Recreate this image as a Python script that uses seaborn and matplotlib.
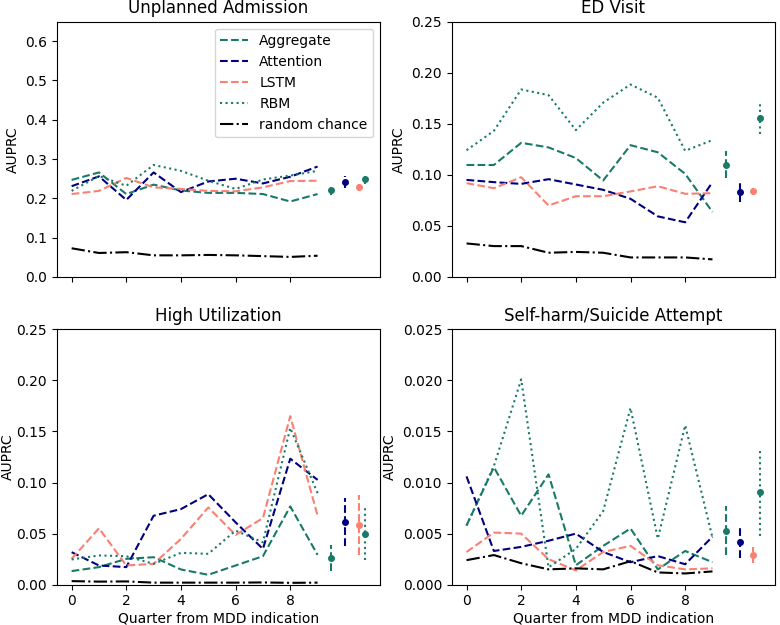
import matplotlib
matplotlib.use("Agg")
import matplotlib.pyplot as plt
import seaborn as sns
import numpy as np
import pandas as pd

quarters = [0, 1, 2, 3, 4, 5, 6, 7, 8, 9]
models = ["Aggregate", "Attention", "LSTM", "RBM"]
summary_x = [9.5, 10.0, 10.5, 10.75]
titles = ["Unplanned Admission", "ED Visit", "High Utilization", "Self-harm/Suicide Attempt"]
xticks = [0, 2, 4, 6, 8]

# Unplanned Admission
ua_aggregate = [0.247, 0.266, 0.211, 0.235, 0.220, 0.214, 0.214, 0.211, 0.192, 0.211]
ua_attention = [0.231, 0.256, 0.196, 0.266, 0.216, 0.243, 0.250, 0.238, 0.255, 0.281]
ua_lstm = [0.211, 0.219, 0.252, 0.228, 0.224, 0.219, 0.218, 0.228, 0.244, 0.245]
ua_rbm = [0.219, 0.257, 0.232, 0.285, 0.270, 0.245, 0.224, 0.248, 0.258, 0.270]
ua_random = [0.073, 0.061, 0.063, 0.055, 0.055, 0.056, 0.055, 0.053, 0.051, 0.054]
ua_mean = [0.221, 0.242, 0.228, 0.249]
ua_err = [0.012, 0.015, 0.008, 0.012]

# ED Visit
ed_aggregate = [0.1096, 0.1096, 0.1313, 0.1268, 0.1164, 0.0944, 0.1290, 0.1220, 0.1009, 0.0636]
ed_attention = [0.0950, 0.0928, 0.0911, 0.0957, 0.0905, 0.0853, 0.0765, 0.0593, 0.0535, 0.0928]
ed_lstm = [0.0918, 0.0869, 0.0976, 0.0700, 0.0790, 0.0790, 0.0837, 0.0888, 0.0814, 0.0820]
ed_rbm = [0.1240, 0.1430, 0.1835, 0.1780, 0.1437, 0.1706, 0.1884, 0.1754, 0.1235, 0.1340]
ed_random = [0.0328, 0.0302, 0.0302, 0.0237, 0.0245, 0.0237, 0.0191, 0.0191, 0.0191, 0.0172]
ed_mean = [0.110, 0.0833, 0.0837, 0.156]
ed_err = [0.0135, 0.010, 0.003, 0.0163]

# High Utilization
hu_aggregate = [0.0133, 0.0172, 0.0253, 0.0269, 0.0149, 0.0097, 0.0188, 0.0279, 0.0766, 0.0292]
hu_attention = [0.0318, 0.0188, 0.0172, 0.0675, 0.0740, 0.0886, 0.0610, 0.0350, 0.1233, 0.1026]
hu_lstm = [0.0253, 0.0552, 0.0188, 0.0204, 0.0448, 0.0756, 0.0487, 0.0652, 0.1650, 0.0675]
hu_rbm = [0.0247, 0.0286, 0.0279, 0.0204, 0.0312, 0.0302, 0.0529, 0.0415, 0.1535, 0.0896]
hu_random = [0.0035, 0.0030, 0.0032, 0.0020, 0.0020, 0.0020, 0.0020, 0.0022, 0.0018, 0.0020]
hu_mean = [0.026, 0.0617, 0.0584, 0.0497]
hu_err = [0.013, 0.0235, 0.029, 0.026]

# Self-harm/Suicide Attempt
sh_aggregate = [0.0058, 0.0115, 0.00675, 0.0108, 0.0019, 0.0038, 0.0055, 0.0015, 0.0033, 0.0022]
sh_attention = [0.0106, 0.0033, 0.0037, 0.0043, 0.0050, 0.0032, 0.0022, 0.0028, 0.0020, 0.0047]
sh_lstm = [0.0032, 0.0051, 0.0050, 0.0025, 0.0014, 0.0032, 0.0038, 0.0019, 0.0015, 0.0016]
sh_rbm = [0.00578, 0.0116, 0.0201, 0.0017, 0.0035, 0.0072, 0.0173, 0.0045, 0.0156, 0.0046]
sh_random = [0.0024, 0.0029, 0.0021, 0.0015, 0.0016, 0.0015, 0.0023, 0.0012, 0.0011, 0.0013]
sh_mean = [0.0053, 0.0042, 0.0029, 0.0091]
sh_err = [0.0024, 0.0016, 0.0008, 0.0043]

ylims = [0.65, 0.25, 0.25, 0.025]

colors = {"Aggregate": "#1a7a68", "Attention": "#000080", "LSTM": "#fa8072", "RBM": "#1a7a68"}
styles = {"Aggregate": "--", "Attention": "--", "LSTM": "--", "RBM": ":"}

panels = [
    (ua_aggregate, ua_attention, ua_lstm, ua_rbm, ua_random, ua_mean, ua_err),
    (ed_aggregate, ed_attention, ed_lstm, ed_rbm, ed_random, ed_mean, ed_err),
    (hu_aggregate, hu_attention, hu_lstm, hu_rbm, hu_random, hu_mean, hu_err),
    (sh_aggregate, sh_attention, sh_lstm, sh_rbm, sh_random, sh_mean, sh_err),
]

fig, axes = plt.subplots(2, 2, figsize=(7.8, 6.25), dpi=100, sharex=True)
fig.subplots_adjust(left=0.073, right=0.9936, top=0.9655, bottom=0.0645,
                    wspace=0.222, hspace=0.205)

for i, ax in enumerate(axes.flat):
    agg, att, lstm, rbm, rnd, mean, err = panels[i]
    series = dict(zip(models, [agg, att, lstm, rbm]))
    for m in models:
        sns.lineplot(x=quarters, y=series[m], ax=ax, color=colors[m],
                     linestyle=styles[m], linewidth=1.5, label=m, legend=False)
    sns.lineplot(x=quarters, y=rnd, ax=ax, color="black", linestyle="-.",
                 linewidth=1.5, label="random chance", legend=False)
    for j, m in enumerate(models):
        eb = ax.errorbar([summary_x[j]], [mean[j]], yerr=[err[j]], fmt="o",
                         color=colors[m], markersize=4, elinewidth=1.5)
        eb[2][0].set_linestyle(styles[m])
    ax.set_ylim(0, ylims[i])
    ax.set_xticks(xticks)
    ax.set_title(titles[i], fontsize=12)
    ax.set_xlabel("Quarter from MDD indication", labelpad=2)
    ax.set_ylabel("AUPRC", labelpad=1 if i == 2 else 4)
    if i < 2:
        ax.tick_params(labelbottom=False)
    if i == 0:
        ax.legend(loc="upper right")

fig.savefig("out.png", dpi=100)
